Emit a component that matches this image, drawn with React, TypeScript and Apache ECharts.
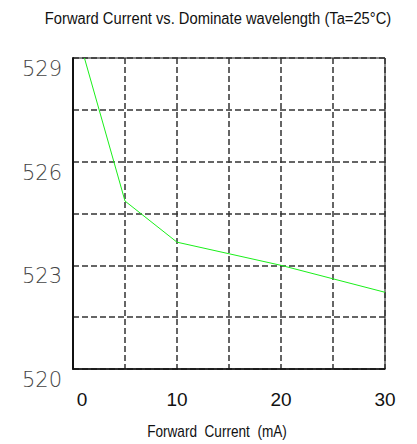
import React, { useEffect, useRef } from "react";
import * as echarts from "echarts";

const titleText = "Forward Current vs. Dominate wavelength (Ta=25°C)";
const xAxisName = "Forward  Current  (mA)";
const currents = [1.1, 5, 10, 20, 30];
const wavelengths = [529, 524.86, 523.67, 523.0, 522.22];
const yTickLabels = [520, 523, 526, 529];
const xTickLabels = [0, 10, 20, 30];

export default function App() {
  const ref = useRef<HTMLDivElement>(null);
  useEffect(() => {
    if (!ref.current) return;
    const chart = echarts.init(ref.current, null, { renderer: "svg" });
    const sans = "'Liberation Sans', Arial, sans-serif";
    chart.setOption({
      animation: false,
      backgroundColor: "#ffffff",
      grid: {
        left: 73,
        right: 32,
        top: 58,
        bottom: 75,
        show: true,
        borderColor: "#111",
        borderWidth: 1,
      },
      graphic: [
        {
          type: "text",
          x: 218,
          y: 18,
          scaleX: 0.92,
          style: {
            text: titleText,
            font: "16px " + sans,
            fill: "#111",
            align: "center",
            verticalAlign: "middle",
          },
        },
        {
          type: "text",
          x: 217,
          y: 432,
          scaleX: 0.85,
          style: {
            text: xAxisName,
            font: "16px " + sans,
            fill: "#111",
            align: "center",
            verticalAlign: "middle",
          },
        },
      ],
      xAxis: {
        type: "value",
        min: 0,
        max: 30,
        interval: 5,
        axisLine: { show: true, onZero: false, lineStyle: { color: "#111", width: 1.5 } },
        axisTick: { show: false },
        splitLine: { show: true, lineStyle: { color: "#333", width: 1.5, type: [6, 3] } },
        axisLabel: {
          margin: 21,
          fontFamily: sans,
          fontSize: 19,
          color: "#111",
          formatter: (v: number) =>
            xTickLabels.includes(v) ? (v === 0 ? "{z|0}" : String(v)) : "",
          rich: { z: { padding: [0, 0, 0, 18], fontFamily: sans, fontSize: 19, color: "#111" } },
        },
      },
      yAxis: {
        type: "value",
        min: 520,
        max: 529,
        interval: 1.5,
        axisLine: { show: true, lineStyle: { color: "#111", width: 2 } },
        axisTick: { show: false },
        splitLine: { show: true, lineStyle: { color: "#333", width: 1.5, type: [6, 3] } },
        axisLabel: {
          margin: 11,
          fontFamily: "'DejaVu Sans', sans-serif",
          fontSize: 21,
          fontWeight: 200,
          color: "#444",
          verticalAlign: "top",
          lineHeight: 22,
          formatter: (v: number) => (yTickLabels.includes(v) ? String(v) : ""),
        },
      },
      series: [
        {
          type: "line",
          data: currents.map((c, i) => [c, wavelengths[i]]),
          symbol: "none",
          lineStyle: { color: "#1aef1a", width: 1 },
        },
      ],
    });
    return () => chart.dispose();
  }, []);
  return (
    <div
      ref={ref}
      style={{ position: "fixed", left: 0, top: 0, width: 417, height: 444 }}
    />
  );
}
